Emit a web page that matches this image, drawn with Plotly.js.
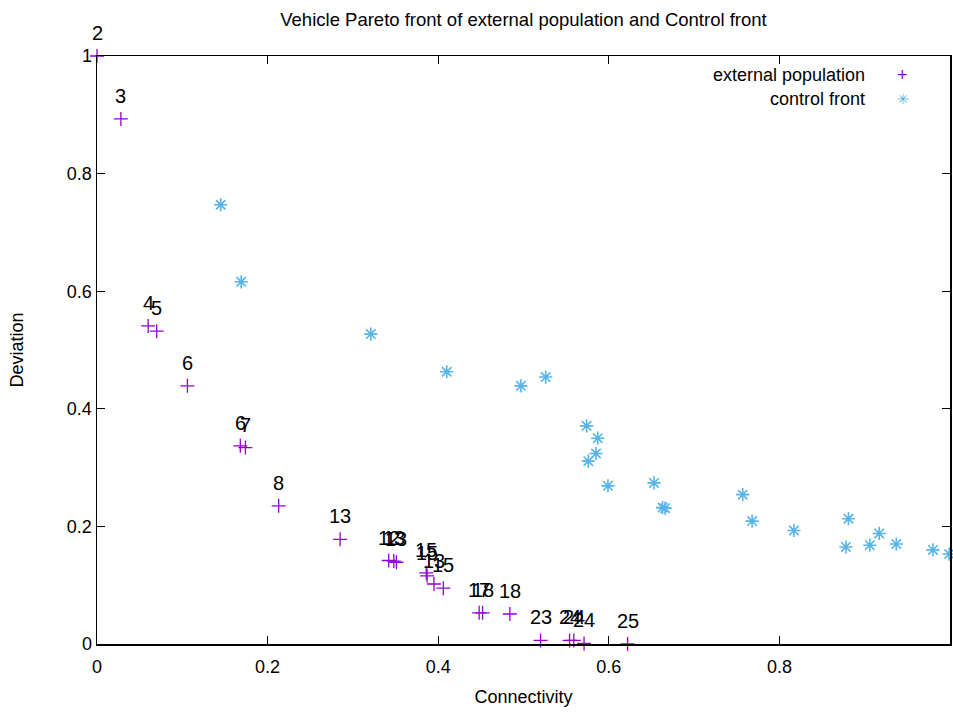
<!DOCTYPE html>
<html>
<head>
<meta charset="utf-8">
<script src="https://cdn.plot.ly/plotly-3.0.1.min.js"></script>
<style>html,body{margin:0;padding:0;background:#fff;}#chart{width:953px;height:713px;}</style>
</head>
<body>
<div id="chart"></div>
<script>
// External population (purple +) with labels
const extX = [0.000, 0.028, 0.060, 0.070, 0.106, 0.168, 0.174, 0.213, 0.285, 0.342, 0.348, 0.351, 0.386, 0.387, 0.395, 0.406, 0.448, 0.452, 0.484, 0.520, 0.554, 0.559, 0.571, 0.622];
const extY = [1.000, 0.893, 0.541, 0.532, 0.439, 0.337, 0.334, 0.235, 0.178, 0.142, 0.141, 0.139, 0.121, 0.116, 0.102, 0.095, 0.053, 0.053, 0.051, 0.006, 0.006, 0.006, 0.001, 0.000];
const extLabels = ["2", "3", "4", "5", "6", "6", "7", "8", "13", "12", "13", "13", "15", "15", "13", "15", "17", "18", "18", "23", "24", "24", "24", "25"];

// Control front (blue asterisks)
const ctrlX = [0.145, 0.169, 0.321, 0.410, 0.497, 0.526, 0.574, 0.587, 0.585, 0.576, 0.599, 0.653, 0.663, 0.666, 0.757, 0.768, 0.817, 0.881, 0.878, 0.906, 0.917, 0.937, 0.980, 0.999];
const ctrlY = [0.747, 0.616, 0.527, 0.463, 0.439, 0.454, 0.371, 0.350, 0.324, 0.311, 0.269, 0.274, 0.232, 0.231, 0.254, 0.209, 0.193, 0.213, 0.165, 0.168, 0.188, 0.170, 0.160, 0.153];

const tickVals = [0, 0.2, 0.4, 0.6, 0.8, 1];
const tickText = ["0", "0.2", "0.4", "0.6", "0.8", "1"];
const seriesNames = ["external population", "control front"];

const FONT = "Liberation Sans, Arial, sans-serif";
const PURPLE = "#9400d3";
const BLUE = "#56b4e9";

const traces = [
  {
    x: extX, y: extY, type: "scatter", mode: "markers", name: seriesNames[0],
    marker: {symbol: "cross-thin-open", size: 10, color: PURPLE, line: {color: PURPLE, width: 1.3}},
    cliponaxis: false, showlegend: false
  },
  {
    x: ctrlX, y: ctrlY, type: "scatter", mode: "markers", name: seriesNames[1],
    marker: {symbol: "asterisk-open", size: 11, color: BLUE, line: {color: BLUE, width: 1.6}},
    cliponaxis: false, showlegend: false
  }
];

const annotations = extLabels.map((t, i) => ({
  x: extX[i], y: extY[i], xref: "x", yref: "y", text: t, showarrow: false,
  yshift: 23, font: {family: FONT, size: 20, color: "#000"}
}));

// Legend (gnuplot style: text right-aligned, symbol to the right)
annotations.push(
  {xref: "paper", yref: "paper", x: 0.9027, y: 0.9677, xanchor: "right", yanchor: "middle",
   text: seriesNames[0], showarrow: false, font: {family: FONT, size: 18, color: "#000"}},
  {xref: "paper", yref: "paper", x: 0.9027, y: 0.9269, xanchor: "right", yanchor: "middle",
   text: seriesNames[1], showarrow: false, font: {family: FONT, size: 18, color: "#000"}},
  {xref: "paper", yref: "paper", x: 0.9449, y: 0.9677, xanchor: "center", yanchor: "middle",
   text: "+", showarrow: false, font: {family: FONT, size: 18, color: PURPLE}},
  {xref: "paper", yref: "paper", x: 0.9449, y: 0.9269, xanchor: "center", yanchor: "middle",
   text: "\u2733", showarrow: false, font: {family: "DejaVu Sans", size: 14, color: BLUE}}
);

const axisCommon = {
  range: [0, 1], showgrid: false, zeroline: false,
  showline: true, linecolor: "#000", linewidth: 1.5, mirror: "ticks",
  ticks: "inside", ticklen: 8, tickwidth: 1.2, tickcolor: "#000",
  tickmode: "array", tickvals: tickVals, ticktext: tickText,
  tickfont: {family: FONT, size: 18, color: "#000"}, automargin: false
};

const layout = {
  width: 953, height: 713,
  margin: {l: 97, r: 3, t: 56, b: 69, pad: 0},
  paper_bgcolor: "#fff", plot_bgcolor: "#fff",
  title: {text: "Vehicle Pareto front of external population and Control front",
          font: {family: FONT, size: 18.5, color: "#000"},
          xref: "paper", x: 0.5, xanchor: "center", yref: "container", y: 0.972, yanchor: "middle"},
  xaxis: Object.assign({}, axisCommon, {
    title: {text: "Connectivity", font: {family: FONT, size: 18, color: "#000"}, standoff: 14},
    ticklabelstandoff: 6
  }),
  yaxis: Object.assign({}, axisCommon, {
    title: {text: "Deviation", font: {family: FONT, size: 18, color: "#000"}, standoff: 38},
    ticklabelstandoff: 0
  }),
  showlegend: false,
  annotations: annotations
};

Plotly.newPlot("chart", traces, layout, {displayModeBar: false, staticPlot: true});
</script>
</body>
</html>
